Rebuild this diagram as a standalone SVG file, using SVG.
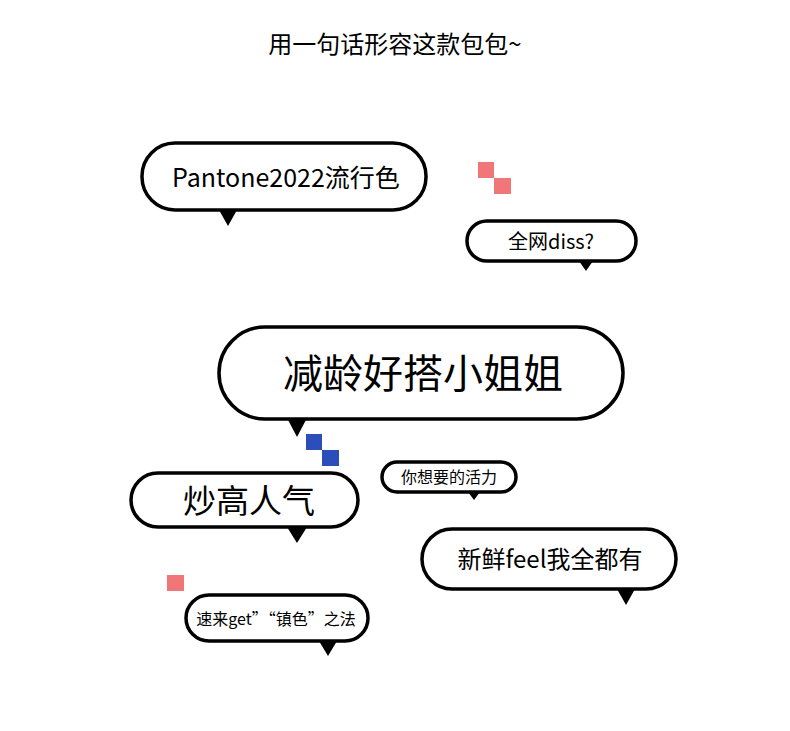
<svg xmlns="http://www.w3.org/2000/svg" width="790" height="731" viewBox="0 0 790 731">
<style>
.b{fill:#fff;stroke:#000;stroke-width:3.5}
.t{fill:#000}
text{font-family:"Noto Sans CJK SC","Liberation Sans",sans-serif;fill:#000;text-anchor:middle}
.pk{fill:#F07678}.bl{fill:#2C4EBB}
</style>
<rect width="790" height="731" fill="#fff"/>
<text x="395" y="53" font-size="24">用一句话形容这款包包~</text>
<g id="deco">
<rect class="pk" x="478" y="162" width="16" height="16"/><rect class="pk" x="494" y="178" width="17" height="16"/>
<rect class="bl" x="306" y="434" width="16" height="16"/><rect class="bl" x="322" y="450" width="17" height="16"/>
<rect class="pk" x="167" y="575" width="17" height="16"/>
</g>
<g id="connectors">
<polygon class="t" points="219,210 237,210 228,226"/>
<polygon class="t" points="579,261 593,261 586,271"/>
<polygon class="t" points="287,418 307,418 297,437"/>
<polygon class="t" points="287,527 307,527 297,543"/>
<polygon class="t" points="468,492 480,492 474,500"/>
<polygon class="t" points="617,589 635,589 626,605"/>
<polygon class="t" points="319,641 337,641 328,656"/>
</g>
<g id="n1"><rect class="b" x="142" y="143" width="284" height="67" rx="33"/><text x="286" y="187" font-size="25">Pantone2022流行色</text></g>
<g id="n2"><rect class="b" x="467" y="221" width="169" height="40" rx="20"/><text x="551" y="249" font-size="20">全网diss?</text></g>
<g id="n3"><rect class="b" x="219" y="327" width="404" height="92" rx="46"/><text x="423" y="388" font-size="40">减龄好搭小姐姐</text></g>
<g id="n4"><rect class="b" x="131" y="473" width="227" height="54" rx="27"/><text x="249" y="513" font-size="33">炒高人气</text></g>
<g id="n5"><rect class="b" x="382" y="462" width="134" height="30" rx="15"/><text x="449" y="483" font-size="16">你想要的活力</text></g>
<g id="n6"><rect class="b" x="422" y="529" width="254" height="60" rx="30"/><text x="550" y="568" font-size="24">新鲜feel我全都有</text></g>
<g id="n7"><rect class="b" x="186" y="595" width="182" height="46" rx="23"/><text x="276" y="625" font-size="16">速来get”“镇色”之法</text></g>
</svg>
